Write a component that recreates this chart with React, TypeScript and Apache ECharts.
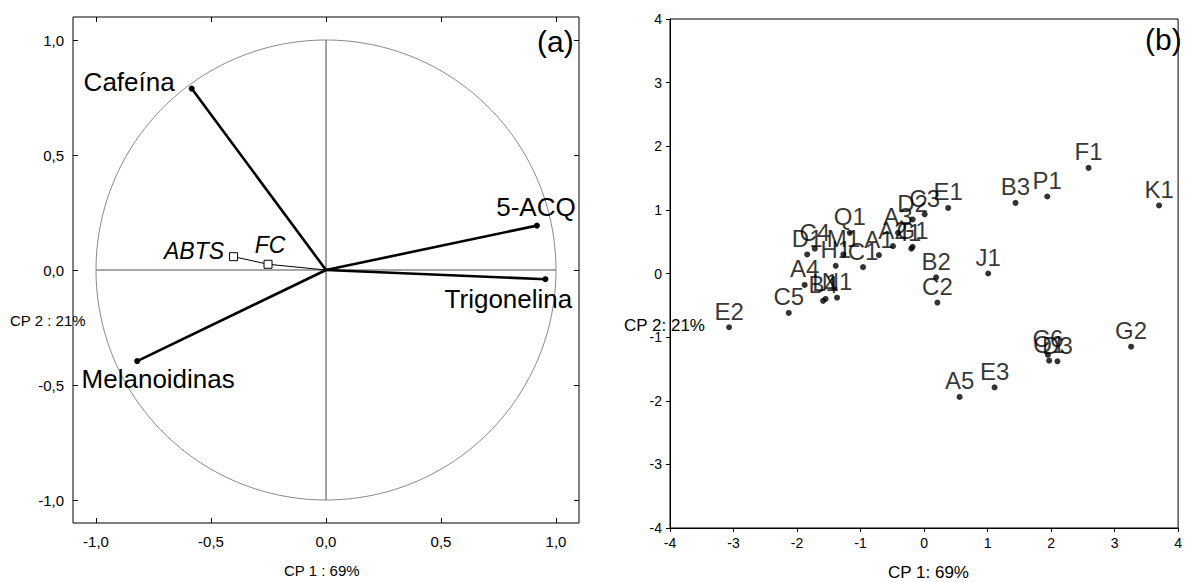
import React, { useEffect, useRef } from "react";
import * as echarts from "echarts";

// ---- Panel (a): loadings ----
const loadingNames = ["Cafeína", "5-ACQ", "Trigonelina", "Melanoidinas"];
const loadingX = [-0.584, 0.917, 0.954, -0.821];
const loadingY = [0.789, 0.193, -0.04, -0.396];
const suppNames = ["FC", "ABTS"];
const suppX = [-0.252, -0.402];
const suppY = [0.025, 0.058];
const ticksA = [-1, -0.5, 0, 0.5, 1];

// ---- Panel (b): scores ----
const sampleNames = [
  "F1", "P1", "B3", "K1", "E1", "C3", "D2", "A3", "A2", "G1", "I1", "A1", "C1",
  "Q1", "M1", "H1", "C4", "D1", "A4", "B4", "L1", "N1", "C5", "E2", "B2", "C2",
  "J1", "G2", "C6", "O1", "D3", "E3", "A5",
];
const scoreX = [
  2.59, 1.94, 1.44, 3.7, 0.38, 0.01, -0.18, -0.41, -0.49, -0.18, -0.2, -0.71, -0.96,
  -1.17, -1.27, -1.39, -1.72, -1.84, -1.88, -1.59, -1.55, -1.37, -2.13, -3.07, 0.19, 0.21,
  1.01, 3.26, 1.95, 1.97, 2.1, 1.11, 0.56,
];
const scoreY = [
  1.66, 1.21, 1.11, 1.07, 1.03, 0.93, 0.85, 0.64, 0.43, 0.42, 0.39, 0.29, 0.1,
  0.64, 0.3, 0.12, 0.39, 0.3, -0.18, -0.43, -0.4, -0.38, -0.62, -0.845, -0.06, -0.457,
  0.0, -1.15, -1.28, -1.37, -1.38, -1.79, -1.94,
];

// label placements (style only)
const loadingLabelStyle = [
  { position: "left", distance: 14, offset: [0, -7] },
  { position: "top", distance: 3, offset: [-1, 0] },
  { position: "bottom", distance: 4, offset: [-37, 0] },
  { position: "bottom", distance: 2, offset: [21, 0] },
];
const suppLabelStyle = [
  { position: "top", distance: 3, offset: [2, 0] },
  { position: "left", distance: 5, offset: [0, -6] },
];

const FONT = "Liberation Sans, Arial, Helvetica, sans-serif";
const fmtA = (v: number) => v.toFixed(1).replace(".", ",");

export default function App() {
  const ref = useRef<HTMLDivElement>(null);
  useEffect(() => {
    if (!ref.current) return;
    const chart = echarts.init(ref.current, undefined, { renderer: "svg" });

    const circle: number[][] = [];
    for (let a = 0; a <= 360; a += 2) {
      const r = (a * Math.PI) / 180;
      circle.push([Math.cos(r), Math.sin(r)]);
    }

    const series: any[] = [];
    series.push({
      type: "line",
      xAxisIndex: 0,
      yAxisIndex: 0,
      data: circle,
      showSymbol: false,
      symbol: "none",
      silent: true,
      lineStyle: { color: "#8a8a8a", width: 1 },
      z: 1,
    });
    series.push({
      type: "line",
      xAxisIndex: 0,
      yAxisIndex: 0,
      data: [[-1, 0], [1, 0]],
      symbol: "none",
      silent: true,
      lineStyle: { color: "#8a8a8a", width: 1.6 },
      z: 1,
    });
    series.push({
      type: "line",
      xAxisIndex: 0,
      yAxisIndex: 0,
      data: [[0, -1], [0, 1]],
      symbol: "none",
      silent: true,
      lineStyle: { color: "#8a8a8a", width: 1.6 },
      z: 1,
    });

    loadingNames.forEach((name, i) => {
      const st = loadingLabelStyle[i];
      series.push({
        type: "line",
        xAxisIndex: 0,
        yAxisIndex: 0,
        z: 3,
        lineStyle: { color: "#000", width: 2.6 },
        itemStyle: { color: "#000" },
        data: [
          { value: [0, 0], symbol: "none" },
          {
            value: [loadingX[i], loadingY[i]],
            name,
            symbol: "circle",
            symbolSize: 6,
            label: {
              show: true,
              formatter: name,
              position: st.position,
              distance: st.distance,
              offset: st.offset,
              fontSize: 26,
              fontFamily: FONT,
              color: "#000",
            },
          },
        ],
      });
    });

    series.push({
      type: "line",
      xAxisIndex: 0,
      yAxisIndex: 0,
      z: 4,
      lineStyle: { color: "#000", width: 1 },
      itemStyle: { color: "#fff", borderColor: "#000", borderWidth: 1 },
      data: [
        { value: [0, 0], symbol: "none" },
        ...suppNames.map((name, i) => ({
          value: [suppX[i], suppY[i]],
          name,
          symbol: "rect",
          symbolSize: 8,
          label: {
            show: true,
            formatter: name,
            position: suppLabelStyle[i].position,
            distance: suppLabelStyle[i].distance,
            offset: suppLabelStyle[i].offset,
            fontSize: 23,
            fontStyle: "italic",
            fontFamily: FONT,
            color: "#000",
          },
        })),
      ],
    });

    series.push({
      type: "scatter",
      xAxisIndex: 2,
      yAxisIndex: 2,
      symbol: "circle",
      symbolSize: 6,
      itemStyle: { color: "#000" },
      label: {
        show: true,
        position: "top",
        distance: 1,
        formatter: "{b}",
        fontSize: 24,
        fontFamily: FONT,
        color: "#000",
      },
      data: sampleNames.map((n, i) => ({ name: n, value: [scoreX[i], scoreY[i]] })),
      z: 5,
    });

    const tickA = () => ({
      show: true,
      inside: true,
      length: 5,
      customValues: ticksA,
      lineStyle: { color: "#000", width: 1 },
    });
    const noLine = { show: false, onZero: false };

    chart.setOption({
      animation: false,
      backgroundColor: "#fff",
      textStyle: { fontFamily: FONT },
      grid: [
        {
          left: 73,
          top: 17,
          width: 506,
          height: 506,
          show: true,
          borderColor: "#000",
          borderWidth: 1,
          backgroundColor: "transparent",
        },
        {
          left: 670,
          top: 19,
          width: 516,
          height: 509,
          show: true,
          borderColor: "#000",
          borderWidth: 1,
          backgroundColor: "transparent",
        },
      ],
      xAxis: [
        {
          type: "value",
          gridIndex: 0,
          min: -1.1,
          max: 1.1,
          position: "bottom",
          axisLine: noLine,
          splitLine: { show: false },
          axisTick: tickA(),
          axisLabel: {
            customValues: ticksA,
            formatter: fmtA,
            fontSize: 15,
            color: "#000",
            margin: 11,
            fontFamily: FONT,
          },
        },
        {
          type: "value",
          gridIndex: 0,
          min: -1.1,
          max: 1.1,
          position: "top",
          axisLine: noLine,
          splitLine: { show: false },
          axisTick: tickA(),
          axisLabel: { show: false },
        },
        {
          type: "value",
          gridIndex: 1,
          min: -4,
          max: 4,
          interval: 1,
          position: "bottom",
          axisLine: { show: true, onZero: false, lineStyle: { color: "#000", width: 1 } },
          splitLine: { show: false },
          axisTick: { show: true, inside: false, length: 4, lineStyle: { color: "#000" } },
          axisLabel: { fontSize: 14, color: "#000", margin: 8, fontFamily: FONT },
        },
      ],
      yAxis: [
        {
          type: "value",
          gridIndex: 0,
          min: -1.1,
          max: 1.1,
          position: "left",
          axisLine: noLine,
          splitLine: { show: false },
          axisTick: tickA(),
          axisLabel: {
            customValues: ticksA,
            formatter: fmtA,
            fontSize: 15,
            color: "#000",
            margin: 9,
            fontFamily: FONT,
          },
        },
        {
          type: "value",
          gridIndex: 0,
          min: -1.1,
          max: 1.1,
          position: "right",
          axisLine: noLine,
          splitLine: { show: false },
          axisTick: tickA(),
          axisLabel: { show: false },
        },
        {
          type: "value",
          gridIndex: 1,
          min: -4,
          max: 4,
          interval: 1,
          position: "left",
          axisLine: { show: true, onZero: false, lineStyle: { color: "#000", width: 1 } },
          splitLine: { show: false },
          axisTick: { show: true, inside: false, length: 4, lineStyle: { color: "#000" } },
          axisLabel: { fontSize: 14, color: "#000", margin: 8, fontFamily: FONT },
        },
      ],
      graphic: [
        {
          type: "text",
          left: 537,
          top: 26,
          style: { text: "(a)", fontSize: 30, fill: "#000", fontFamily: FONT },
        },
        {
          type: "text",
          left: 1145,
          top: 24,
          style: { text: "(b)", fontSize: 30, fill: "#000", fontFamily: FONT },
        },
        {
          type: "text",
          left: 10,
          top: 313,
          style: { text: "CP 2 : 21%", fontSize: 15, fill: "#000", fontFamily: FONT },
        },
        {
          type: "text",
          left: 284,
          top: 563,
          style: { text: "CP 1 : 69%", fontSize: 15, fill: "#000", fontFamily: FONT },
        },
        {
          type: "text",
          left: 624,
          top: 317,
          style: { text: "CP 2: 21%", fontSize: 17, fill: "#000", fontFamily: FONT },
        },
        {
          type: "text",
          left: 888,
          top: 564,
          style: { text: "CP 1: 69%", fontSize: 17, fill: "#000", fontFamily: FONT },
        },
      ],
      series,
    });
    return () => chart.dispose();
  }, []);
  return (
    <div
      ref={ref}
      style={{ position: "fixed", left: 0, top: 0, width: 1185, height: 582, background: "#fff" }}
    />
  );
}
